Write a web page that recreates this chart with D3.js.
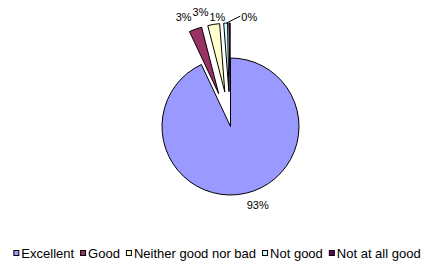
<!DOCTYPE html>
<html>
<head>
<meta charset="utf-8">
<script src="https://cdn.jsdelivr.net/npm/d3@7"></script>
<style>
  body { margin: 0; background: #fff; }
  svg { display: block; }
  text { font-family: Arial, "Liberation Sans", sans-serif; fill: #000; }
</style>
</head>
<body>
<div id="chart"></div>
<script>
// survey answers, percent of respondents
const categories = ['Excellent', 'Good', 'Neither good nor bad', 'Not good', 'Not at all good'];
const values = [93.0, 3.0, 2.8, 0.9, 0.3];
const colors = ['#9999FF', '#993366', '#FFFFCC', '#CCFFFF', '#660066'];

const width = 434, height = 270;
const cx = 230.5, cy = 126.5, radius = 68.5, explodeDist = 35;
const labelGap = 6, labelH = 12;

const svg = d3.select('#chart').append('svg')
    .attr('width', width)
    .attr('height', height);

const total = d3.sum(values);
const pie = d3.pie().sort(null).value(d => d)(values);
const arc = d3.arc().innerRadius(0).outerRadius(radius);

function midAngle(d) { return (d.startAngle + d.endAngle) / 2; }
// every slice but the big one is pulled out
function offset(d) {
    let a = midAngle(d), e = d.index === 0 ? 0 : explodeDist;
    return [Math.sin(a) * e, -Math.cos(a) * e];
}

const g = svg.append('g').attr('transform', 'translate(' + cx + ',' + cy + ')');

g.selectAll('path.slice')
    .data(pie)
    .enter()
    .append('path')
    .attr('class', 'slice')
    .attr('d', arc)
    .attr('transform', d => 'translate(' + offset(d) + ')')
    .attr('fill', (d, i) => colors[i])
    .attr('stroke', '#000')
    .attr('stroke-width', 1);

// data labels
const labels = pie.map(d => {
    let a = midAngle(d), o = offset(d);
    return {
        a: a,
        ox: o[0], oy: o[1],
        px: o[0] + Math.sin(a) * (radius + labelGap),
        py: o[1] - Math.cos(a) * (radius + labelGap),
        text: Math.round(d.value / total * 100) + '%'
    };
});

const lt = g.selectAll('text.lbl')
    .data(labels)
    .enter()
    .append('text')
    .attr('class', 'lbl')
    .attr('font-size', 11)
    .text(l => l.text);

lt.each(function (l) {
    l.w = this.getComputedTextLength();
    l.x0 = Math.sin(l.a) >= 0 ? l.px : l.px - l.w;
    l.y0 = Math.cos(l.a) >= 0 ? l.py - labelH : l.py;
});

// crowded labels at the top: last one goes right on a leader line
// (sitting beside its neighbour, a bit lower), the rest are pushed left
const n = labels.length;
let last = labels[n - 1], prev = labels[n - 2];
if (last.x0 < prev.x0 + prev.w + 1) {
    prev.y0 += labelH / 2;
    last.y0 = prev.y0;
    last.x0 = prev.x0 + prev.w + 16;
    last.leader = true;
}
for (let i = n - 3; i >= 1; i--) {
    let nx = labels[i + 1];
    if (labels[i].x0 + labels[i].w > nx.x0 - 1) labels[i].x0 = nx.x0 - 1 - labels[i].w;
}

lt.attr('x', l => l.x0)
  .attr('y', l => l.y0 + labelH / 2)
  .attr('dy', '0.35em');

g.selectAll('line.leader')
    .data(labels.filter(l => l.leader))
    .enter()
    .append('line')
    .attr('class', 'leader')
    .attr('x1', l => l.ox + Math.sin(l.a) * radius - 3)
    .attr('y1', l => l.oy - Math.cos(l.a) * radius)
    .attr('x2', l => l.x0 - 1)
    .attr('y2', l => l.y0 + labelH / 2 - 1)
    .attr('stroke', '#000')
    .attr('stroke-width', 1);

// legend
const box = 5, boxGap = 3, itemGap = 6, legendY = 253;
const legend = svg.append('g');
const items = legend.selectAll('g')
    .data(categories)
    .enter()
    .append('g');

items.append('rect')
    .attr('x', 0.5)
    .attr('width', box)
    .attr('height', box)
    .attr('y', legendY - box / 2)
    .attr('fill', (d, i) => colors[i])
    .attr('stroke', '#000')
    .attr('stroke-width', 1);

items.append('text')
    .attr('font-size', 13)
    .attr('x', box + boxGap)
    .attr('y', legendY)
    .attr('dy', '0.35em')
    .text(d => d);

let widths = [];
items.each(function () { widths.push(box + boxGap + this.querySelector('text').getComputedTextLength()); });
let legendW = d3.sum(widths) + itemGap * (widths.length - 1);
let xPos = (width - legendW) / 2;
items.attr('transform', (d, i) => {
    let t = 'translate(' + xPos + ',0)';
    xPos += widths[i] + itemGap;
    return t;
});
</script>
</body>
</html>
